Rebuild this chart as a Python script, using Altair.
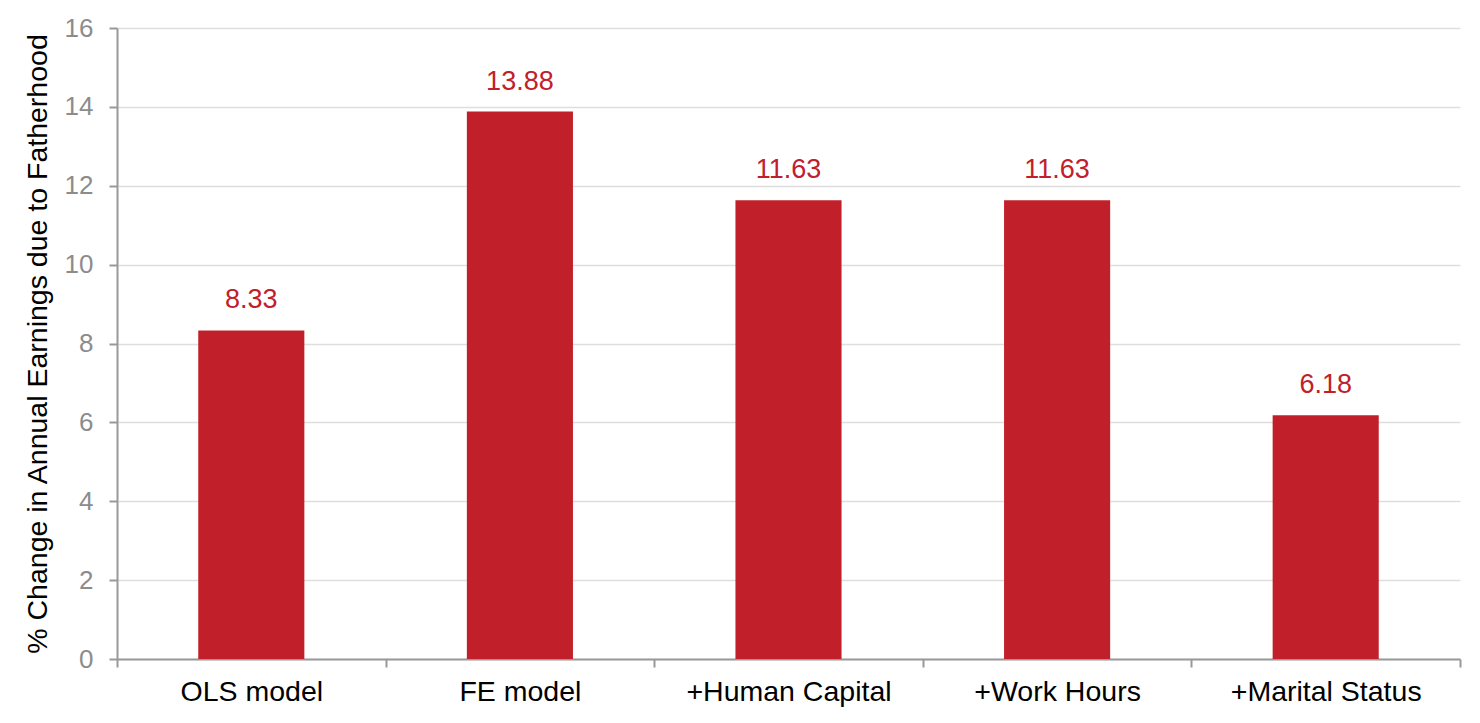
import altair as alt
import pandas as pd

models = ['OLS model', 'FE model', '+Human Capital', '+Work Hours', '+Marital Status']
effects = [8.33, 13.88, 11.63, 11.63, 6.18]

df = pd.DataFrame({'model': models, 'effect': effects})

red = '#C1202A'
font = 'Liberation Sans'

base = alt.Chart(df).encode(
    x=alt.X('model:N', sort=models, title=None,
            scale=alt.Scale(paddingInner=0, paddingOuter=0),
            axis=alt.Axis(labelAngle=0, labelFontSize=28.5, labelColor='black',
                          labelFont=font, labelPadding=10, labelLimit=400,
                          tickBand='extent', tickSize=8, tickWidth=2,
                          tickColor='#999999', domainColor='#999999',
                          domainWidth=2, grid=False)),
    y=alt.Y('effect:Q', title='% Change in Annual Earnings due to Fatherhood',
            scale=alt.Scale(domain=[0, 16], nice=False),
            axis=alt.Axis(values=list(range(0, 17, 2)), labelFontSize=26,
                          labelColor='#8c8c8c', labelFont=font, labelPadding=16,
                          tickSize=8, tickWidth=2, tickColor='#999999',
                          domainColor='#999999', domainWidth=2,
                          gridColor='#dedede', gridWidth=1.5,
                          titleFontSize=28.5, titleFont=font, titleColor='black',
                          titleFontWeight='normal', titlePadding=12)),
)

bars = base.mark_bar(color=red, width=alt.RelativeBandSize(0.395))
labels = base.mark_text(dy=-30, fontSize=27, font=font, color=red).encode(
    text=alt.Text('effect:Q', format='.2f'))

chart = (bars + labels).properties(
    width=1343, height=631,
    padding={'left': 109, 'top': 20, 'right': 10, 'bottom': 50},
    autosize='none',
).configure_view(stroke=None)

chart.save("out.html", embed_options={"renderer": "svg", "actions": False})
